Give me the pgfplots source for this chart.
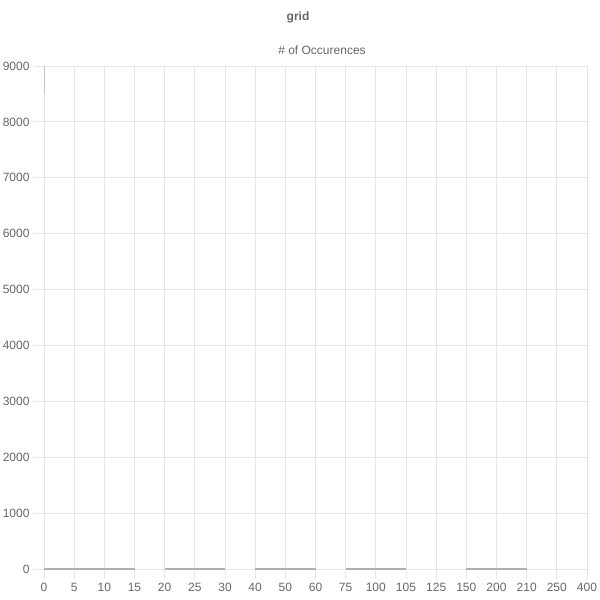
\documentclass[border=0pt]{standalone}
\usepackage{pgfplots}
\pgfplotsset{compat=1.18}
\usepackage{fontspec}
\setmainfont{Liberation Sans}
\definecolor{tickgray}{HTML}{666666}
\definecolor{gridgray}{HTML}{E6E6E6}
\definecolor{linegray}{HTML}{B0B0B0}
\begin{document}
\begin{tikzpicture}[x=1pt,y=1pt]
\useasboundingbox (0,0) rectangle (600,600);
\begin{axis}[
    at={(44pt,31pt)}, anchor=south west,
    scale only axis,
    width=543pt, height=503pt,
    xmin=0, xmax=18,
    ymin=0, ymax=9000,
    xtick={0,...,18},
    xticklabels={0,5,10,15,20,25,30,40,50,60,75,100,105,125,150,200,210,250,400},
    ytick={0,1000,...,9000},
    scaled y ticks=false,
    yticklabel style={/pgf/number format/1000 sep={}},
    /pgf/number format/assume math mode=true,
    grid=major,
    major grid style={gridgray, line width=0.8pt},
    axis line style={gridgray, line width=0.8pt},
    tick style={gridgray, line width=0.8pt},
    tick align=outside,
    major tick length=10pt,
    axis x line*=bottom, axis y line*=left,
    tick label style={tickgray, font=\fontsize{12}{14}\selectfont},
    xticklabel style={yshift=-1pt},
    yticklabel style={xshift=-1pt},
    unbounded coords=jump,
    clip=true,
]
% occurrences per grid value (near zero except the first)
\addplot[linegray, line width=1.1pt] coordinates {
    (0,0) (1,0) (2,0) (3,0) (3,nan)
    (4,0) (5,0) (6,0) (6,nan)
    (7,0) (8,0) (9,0) (9,nan)
    (10,0) (11,0) (12,0) (12,nan)
    (14,0) (15,0) (16,0)
};
\addplot[linegray!70, line width=1pt] coordinates {(0,8500) (0,9000)};
\end{axis}
\node[tickgray, font=\bfseries\fontsize{12}{14}\selectfont] at (298,583) {grid};
\node[tickgray, font=\fontsize{12}{14}\selectfont] at (322,550) {\# of Occurences};
\end{tikzpicture}
\end{document}
